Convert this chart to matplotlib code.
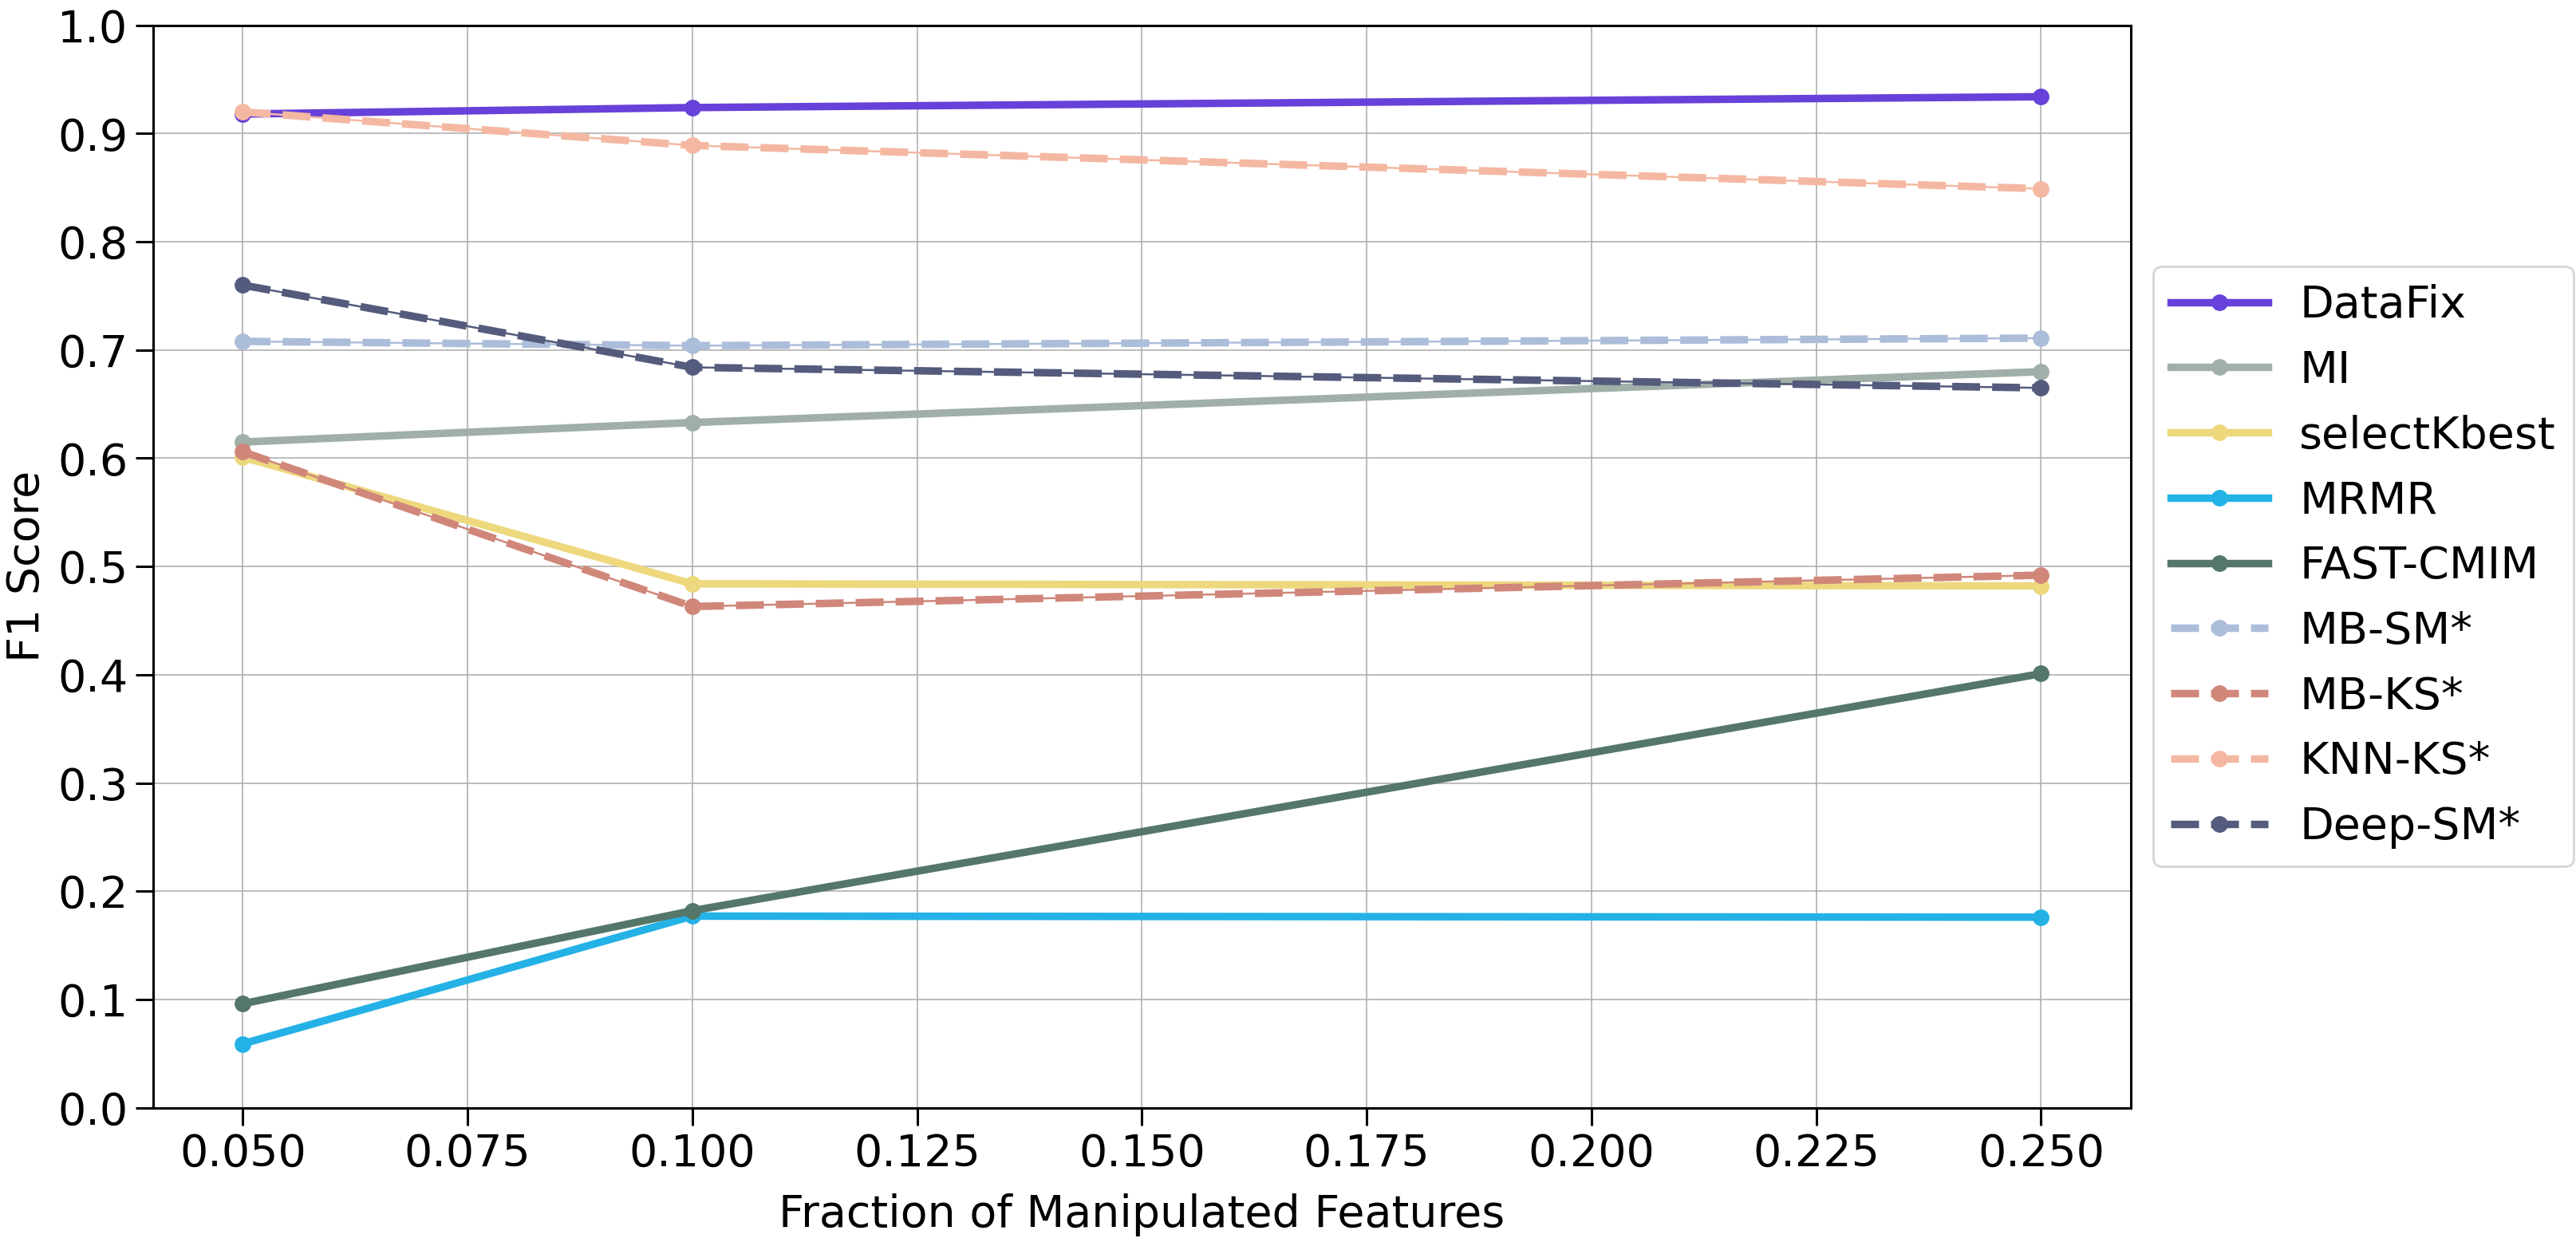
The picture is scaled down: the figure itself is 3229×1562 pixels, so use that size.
import numpy as np
import matplotlib
matplotlib.use('Agg')
import matplotlib.pyplot as plt

fractions = [0.05, 0.10, 0.25]

datafix = [0.918, 0.924, 0.934]
mi = [0.615, 0.633, 0.680]
select_kbest = [0.601, 0.484, 0.482]
mrmr = [0.059, 0.177, 0.176]
fast_cmim = [0.096, 0.182, 0.401]
mb_sm = [0.708, 0.704, 0.711]
mb_ks = [0.606, 0.463, 0.492]
knn_ks = [0.920, 0.889, 0.849]
deep_sm = [0.760, 0.684, 0.665]

solid_names = ['DataFix', 'MI', 'selectKbest', 'MRMR', 'FAST-CMIM']
solid_values = [datafix, mi, select_kbest, mrmr, fast_cmim]
solid_colors = ['#6741D9', '#A0AFA7', '#EDD87E', '#24B2E6', '#54776A']

dashed_names = ['MB-SM*', 'MB-KS*', 'KNN-KS*', 'Deep-SM*']
dashed_values = [mb_sm, mb_ks, knn_ks, deep_sm]
dashed_colors = ['#ACBDD9', '#D0877A', '#F4B8A2', '#555B7C']

plt.rcParams['font.family'] = 'DejaVu Sans'
plt.rcParams['font.size'] = 20

fig = plt.figure(figsize=(16.15, 7.81), dpi=200)
ax = fig.add_axes([0.0593, 0.111, 0.7677, 0.8687])

for name, vals, c in zip(solid_names, solid_values, solid_colors):
    ax.plot(fractions, vals, color=c, linewidth=3.4, marker='o', markersize=6.5, label=name)

for name, vals, c in zip(dashed_names, dashed_values, dashed_colors):
    ax.plot(fractions, vals, color=c, linewidth=0.9)  # thin line under the dashes
    ax.plot(fractions, vals, color=c, linewidth=3.4, linestyle='--', marker='o', markersize=6.5, label=name)

ax.set_ylim(0, 1.0)
ax.set_yticks(np.arange(0, 1.01, 0.1))
ax.set_xticks([0.05, 0.075, 0.1, 0.125, 0.15, 0.175, 0.2, 0.225, 0.25])
ax.xaxis.set_major_formatter(matplotlib.ticker.FormatStrFormatter('%.3f'))
ax.yaxis.set_major_formatter(matplotlib.ticker.FormatStrFormatter('%.1f'))
ax.tick_params(axis='both', labelsize=20, length=7.8, width=1.1)
for s in ax.spines.values():
    s.set_linewidth(1.1)

ax.set_xlabel('Fraction of Manipulated Features', fontsize=20, labelpad=8)
ax.set_ylabel('F1 Score', fontsize=20)
ax.grid(True, color='#b0b0b0', linewidth=0.6)
ax.legend(loc='center left', bbox_to_anchor=(1.0, 0.5), fontsize=20,
          handlelength=2.2, handletextpad=0.7)

fig.savefig('out.png', dpi=200)
